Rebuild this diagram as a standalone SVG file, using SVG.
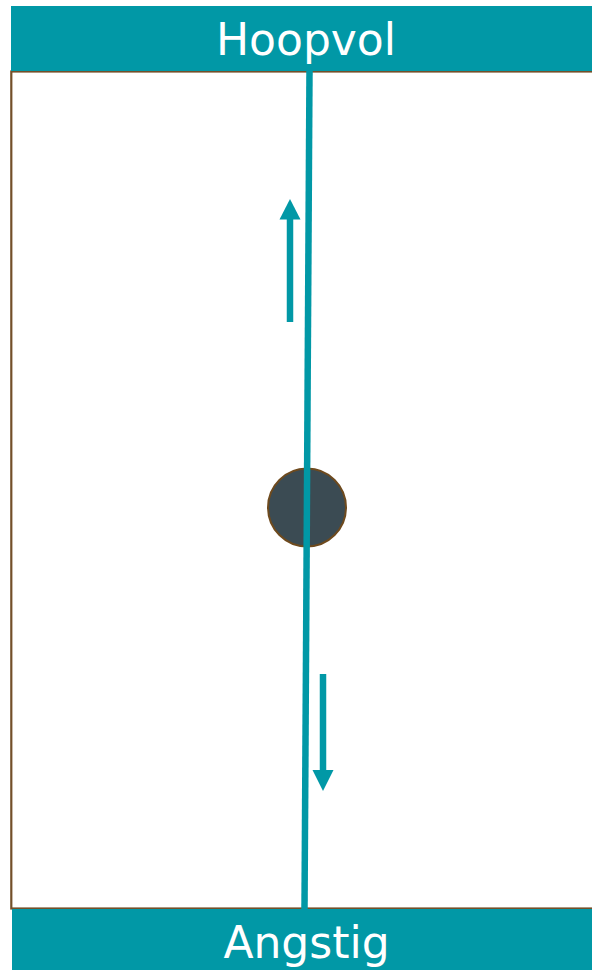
<svg xmlns="http://www.w3.org/2000/svg" width="592" height="970" viewBox="0 0 592 970">
<style>
.bar{fill:#0198a6}
.lbl{font-family:"DejaVu Sans","Verdana",sans-serif;font-size:44px;fill:#ffffff;text-anchor:middle}
.teal{stroke:#0198a6;stroke-width:6.5;fill:none}
.head{fill:#0198a6}
</style>
<rect x="0" y="0" width="592" height="970" fill="#ffffff"/>
<rect id="frame" x="11.3" y="71.5" width="590" height="837" fill="#ffffff" stroke="#73502a" stroke-width="2.2"/>
<g id="hoopvol">
<rect class="bar" x="11" y="6" width="581" height="65"/>
<text class="lbl" x="306" y="55">Hoopvol</text>
</g>
<g id="angstig">
<rect class="bar" x="12" y="909" width="580" height="61"/>
<text class="lbl" x="306.5" y="958">Angstig</text>
</g>
<g id="ball">
<circle cx="307" cy="507.5" r="39" fill="#3b4b53" stroke="#6e4a1e" stroke-width="2"/>
</g>
<g id="connectors">
<line class="teal" x1="309.5" y1="71" x2="304.5" y2="909" stroke-width="6"/>
<line class="teal" x1="290" y1="322" x2="290" y2="218"/>
<polygon class="head" points="279.5,219.5 300.5,219.5 290,199"/>
<line class="teal" x1="323" y1="674" x2="323" y2="771"/>
<polygon class="head" points="312.5,770 333.5,770 323,791"/>
</g>
</svg>
